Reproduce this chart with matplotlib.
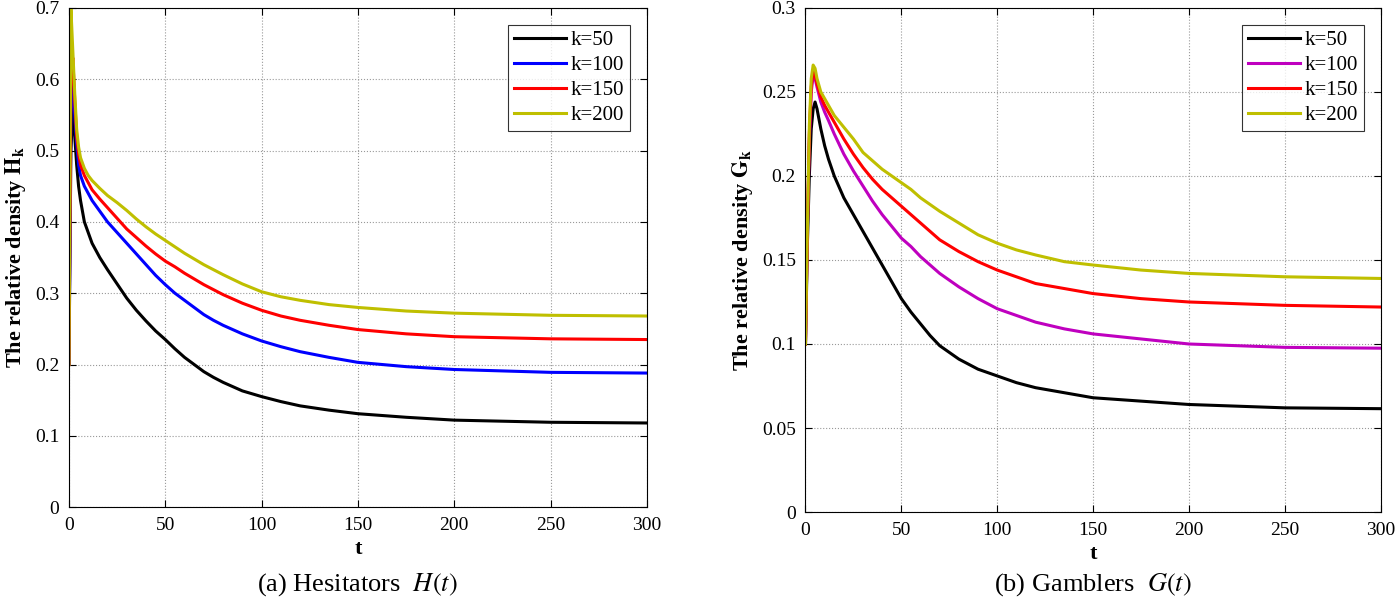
import matplotlib
matplotlib.use("Agg")
import matplotlib.pyplot as plt

plt.rcParams['font.family'] = ['Liberation Serif', 'DejaVu Serif']
plt.rcParams['mathtext.fontset'] = 'stix'

# (a) hesitators H(t)
t_h = [0, 1, 2, 3, 4, 5, 6, 8, 10, 12, 16, 20, 25, 30, 35, 40, 45, 50, 55, 60, 65, 70, 75, 80,
       90, 100, 110, 120, 135, 150, 175, 200, 250, 300]
h50 = [0.2, 0.50, 0.56, 0.52, 0.48, 0.45, 0.43, 0.40, 0.385, 0.37, 0.35, 0.333, 0.313, 0.293,
       0.276, 0.261, 0.247, 0.235, 0.222, 0.21, 0.2, 0.19, 0.182, 0.175, 0.163, 0.155, 0.148,
       0.142, 0.136, 0.131, 0.126, 0.122, 0.119, 0.118]
h100 = [0.2, 0.55, 0.60, 0.55, 0.51, 0.48, 0.465, 0.45, 0.44, 0.43, 0.415, 0.40, 0.385, 0.37,
        0.355, 0.34, 0.325, 0.312, 0.3, 0.29, 0.28, 0.27, 0.262, 0.255, 0.243, 0.233, 0.225,
        0.218, 0.21, 0.203, 0.197, 0.193, 0.189, 0.188]
h150 = [0.2, 0.60, 0.63, 0.57, 0.52, 0.495, 0.48, 0.465, 0.455, 0.445, 0.432, 0.42, 0.405, 0.39,
        0.378, 0.366, 0.355, 0.345, 0.337, 0.328, 0.32, 0.312, 0.305, 0.298, 0.286, 0.276, 0.268,
        0.262, 0.255, 0.249, 0.243, 0.239, 0.236, 0.235]
h200 = [0.2, 0.70, 0.64, 0.58, 0.53, 0.505, 0.49, 0.475, 0.465, 0.458, 0.447, 0.437, 0.427,
        0.416, 0.404, 0.393, 0.383, 0.374, 0.365, 0.356, 0.348, 0.34, 0.333, 0.326, 0.313, 0.302,
        0.295, 0.29, 0.284, 0.28, 0.275, 0.272, 0.269, 0.268]

# (b) gamblers G(t)
t_g = [0, 1, 2, 3, 4, 5, 6, 8, 10, 12, 15, 20, 25, 30, 35, 40, 45, 50, 55, 60, 65, 70, 80, 90,
       100, 110, 120, 135, 150, 175, 200, 250, 300]
g50 = [0.1, 0.16, 0.2, 0.228, 0.24, 0.244, 0.24, 0.228, 0.218, 0.21, 0.2, 0.187, 0.177, 0.167,
       0.157, 0.147, 0.137, 0.127, 0.119, 0.112, 0.105, 0.099, 0.091, 0.085, 0.081, 0.077, 0.074,
       0.071, 0.068, 0.066, 0.064, 0.062, 0.0615]
g100 = [0.1, 0.17, 0.22, 0.25, 0.26, 0.258, 0.253, 0.244, 0.238, 0.233, 0.225, 0.213, 0.203,
        0.194, 0.185, 0.177, 0.17, 0.163, 0.158, 0.152, 0.147, 0.142, 0.134, 0.127, 0.121, 0.117,
        0.113, 0.109, 0.106, 0.103, 0.1, 0.098, 0.0975]
g150 = [0.1, 0.17, 0.225, 0.253, 0.263, 0.26, 0.255, 0.247, 0.242, 0.238, 0.232, 0.222, 0.213,
        0.205, 0.198, 0.192, 0.187, 0.182, 0.177, 0.172, 0.167, 0.162, 0.155, 0.149, 0.144, 0.14,
        0.136, 0.133, 0.13, 0.127, 0.125, 0.123, 0.122]
g200 = [0.1, 0.17, 0.23, 0.258, 0.266, 0.264, 0.258, 0.25, 0.246, 0.242, 0.236, 0.229, 0.222,
        0.214, 0.209, 0.204, 0.2, 0.196, 0.192, 0.187, 0.183, 0.179, 0.172, 0.165, 0.16, 0.156,
        0.153, 0.149, 0.147, 0.144, 0.142, 0.14, 0.139]

labels = ['k=50', 'k=100', 'k=150', 'k=200']
colors_a = ['black', 'blue', 'red', '#bfbf00']
colors_b = ['black', '#bf00bf', 'red', '#bfbf00']


def style_axes(ax, ylim, yticks, ylabel):
    ax.set_xlim(0, 300)
    ax.set_ylim(*ylim)
    ax.set_xticks([0, 50, 100, 150, 200, 250, 300])
    ax.set_yticks(yticks)
    ax.set_yticklabels([f"{v:g}" for v in yticks])
    ax.grid(True, linestyle=':', color='#999999', linewidth=0.8)
    ax.tick_params(direction='in', top=True, right=True, labelsize=14, length=5, pad=7)
    ax.set_xlabel('t', fontsize=16, fontweight='bold', labelpad=4)
    ax.set_ylabel(ylabel, fontsize=16, fontweight='bold', labelpad=5)
    for s in ax.spines.values():
        s.set_linewidth(0.8)
    leg = ax.legend(loc='upper right', fontsize=15, fancybox=False, edgecolor='black',
                    handlelength=2.5, handletextpad=0.2, borderaxespad=0.8,
                    labelspacing=0.25, borderpad=0.3)
    leg.get_frame().set_linewidth(0.8)


fig = plt.figure(figsize=(13.96, 6.11), dpi=100)
ax1 = fig.add_axes([0.0494, 0.170, 0.414, 0.817])
ax2 = fig.add_axes([0.577, 0.162, 0.412, 0.825])

for ys, c, lab in zip([h50, h100, h150, h200], colors_a, labels):
    ax1.plot(t_h, ys, color=c, linewidth=2.2, label=lab)
for ys, c, lab in zip([g50, g100, g150, g200], colors_b, labels):
    ax2.plot(t_g, ys, color=c, linewidth=2.2, label=lab)

style_axes(ax1, (0, 0.7), [0, 0.1, 0.2, 0.3, 0.4, 0.5, 0.6, 0.7],
           r'The relative density $\mathbf{H_k}$')
style_axes(ax2, (0, 0.3), [0, 0.05, 0.1, 0.15, 0.2, 0.25, 0.3],
           r'The relative density $\mathbf{G_k}$')

fig.text(0.256, 0.043, r'(a) Hesitators  $H(t)$', ha='center', va='center', fontsize=19)
fig.text(0.783, 0.043, r'(b) Gamblers  $G(t)$', ha='center', va='center', fontsize=19)

fig.savefig('out.png', dpi=100)
